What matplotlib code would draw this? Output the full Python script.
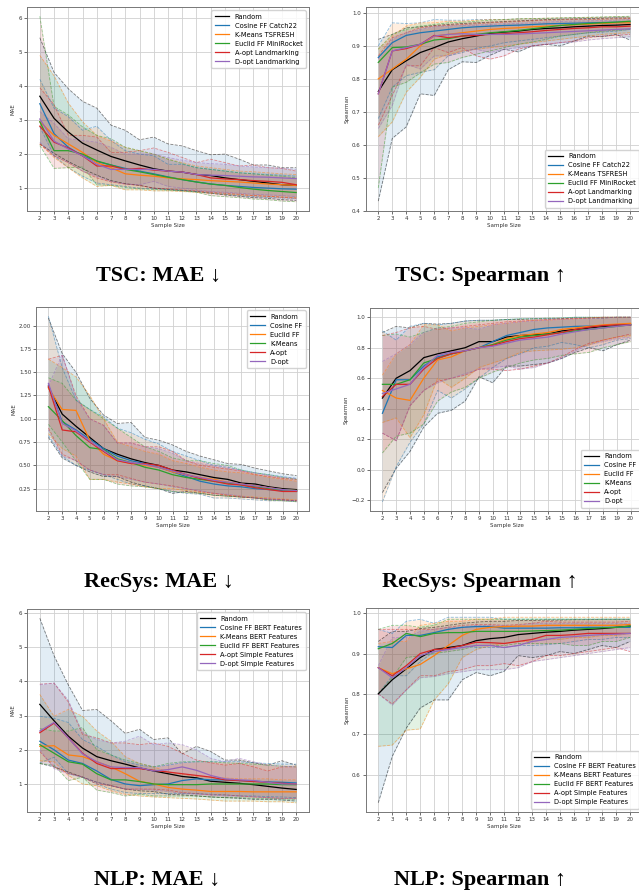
import matplotlib
matplotlib.use("Agg")
import matplotlib.pyplot as plt

# sample sizes on the x axis
sample_sizes = list(range(2, 21))

tsc_labels = ["Random", "Cosine FF Catch22", "K-Means TSFRESH",
              "Euclid FF MiniRocket", "A-opt Landmarking", "D-opt Landmarking"]
recsys_labels = ["Random", "Cosine FF", "Euclid FF", "K-Means", "A-opt", "D-opt"]
nlp_labels = ["Random", "Cosine FF BERT Features", "K-Means BERT Features",
              "Euclid FF BERT Features", "A-opt Simple Features",
              "D-opt Simple Features"]

# ---- TSC: MAE  (mean, lower, upper for each method) ----
tsc_mae_mean = [
    [3.7, 3.05, 2.65, 2.32, 2.12, 1.93, 1.8, 1.68, 1.57, 1.5, 1.47, 1.4, 1.37, 1.3, 1.25, 1.2, 1.15, 1.1, 1.08],
    [3.48, 2.6, 2.2, 1.95, 1.78, 1.68, 1.58, 1.5, 1.42, 1.33, 1.25, 1.18, 1.12, 1.08, 1.05, 1.02, 1.0, 0.98, 0.97],
    [2.95, 2.55, 2.3, 2.05, 1.75, 1.6, 1.42, 1.38, 1.35, 1.3, 1.27, 1.25, 1.22, 1.2, 1.18, 1.15, 1.12, 1.1, 1.08],
    [2.95, 2.1, 2.1, 2.0, 1.8, 1.68, 1.55, 1.48, 1.4, 1.32, 1.25, 1.18, 1.12, 1.08, 1.02, 0.97, 0.93, 0.9, 0.87],
    [2.82, 2.35, 2.18, 1.95, 1.65, 1.65, 1.55, 1.58, 1.53, 1.5, 1.47, 1.4, 1.3, 1.27, 1.25, 1.22, 1.2, 1.17, 1.1],
    [3.03, 2.38, 2.15, 1.95, 1.7, 1.55, 1.55, 1.55, 1.55, 1.5, 1.47, 1.4, 1.38, 1.37, 1.35, 1.33, 1.32, 1.3, 1.28],
]
tsc_mae_lo = [
    [2.3, 2.02, 1.78, 1.57, 1.38, 1.22, 1.13, 1.08, 1.0, 0.96, 0.93, 0.9, 0.85, 0.8, 0.76, 0.72, 0.7, 0.66, 0.64],
    [2.8, 1.95, 1.6, 1.35, 1.15, 1.1, 1.05, 1.0, 0.98, 0.96, 0.93, 0.9, 0.85, 0.82, 0.78, 0.75, 0.73, 0.71, 0.7],
    [2.3, 1.9, 1.6, 1.3, 1.05, 1.08, 0.95, 0.95, 0.92, 0.92, 0.9, 0.88, 0.85, 0.82, 0.8, 0.78, 0.76, 0.74, 0.72],
    [2.25, 1.58, 1.6, 1.62, 1.1, 1.08, 1.02, 0.98, 0.96, 0.94, 0.92, 0.88, 0.78, 0.75, 0.72, 0.68, 0.66, 0.62, 0.6],
    [2.3, 1.95, 1.75, 1.5, 1.3, 1.18, 1.12, 1.08, 1.0, 0.98, 0.95, 0.92, 0.88, 0.85, 0.82, 0.78, 0.76, 0.73, 0.7],
    [2.35, 1.95, 1.75, 1.5, 1.35, 1.2, 1.12, 1.1, 1.2, 1.05, 1.0, 0.95, 0.9, 0.88, 0.85, 0.82, 0.8, 0.78, 0.75],
]
tsc_mae_hi = [
    [5.42, 4.4, 3.92, 3.55, 3.35, 2.85, 2.7, 2.42, 2.5, 2.3, 2.24, 2.1, 1.98, 2.0, 1.85, 1.68, 1.68, 1.6, 1.6],
    [4.2, 3.35, 3.1, 2.7, 2.82, 2.4, 2.1, 2.0, 1.95, 1.7, 1.7, 1.6, 1.55, 1.5, 1.45, 1.42, 1.4, 1.38, 1.35],
    [4.9, 4.3, 3.5, 2.95, 2.55, 2.38, 2.2, 2.1, 2.0, 1.85, 1.75, 1.65, 1.6, 1.55, 1.5, 1.48, 1.45, 1.42, 1.4],
    [6.05, 3.4, 3.15, 2.8, 2.55, 2.45, 2.2, 2.1, 2.0, 1.85, 1.72, 1.6, 1.55, 1.5, 1.45, 1.42, 1.38, 1.35, 1.3],
    [3.95, 3.45, 2.55, 2.55, 2.5, 2.05, 2.05, 2.1, 2.18, 2.05, 1.9, 1.75, 1.85, 1.75, 1.65, 1.68, 1.6, 1.58, 1.5],
    [3.25, 2.9, 2.45, 2.4, 2.35, 2.2, 2.0, 2.0, 2.0, 1.9, 1.82, 1.75, 1.72, 1.7, 1.65, 1.62, 1.6, 1.58, 1.55],
]

# ---- TSC: Spearman ----
tsc_sp_mean = [
    [0.762, 0.828, 0.855, 0.88, 0.895, 0.912, 0.922, 0.93, 0.938, 0.942, 0.945, 0.95, 0.953, 0.955, 0.958, 0.96, 0.962, 0.963, 0.965],
    [0.865, 0.91, 0.932, 0.94, 0.945, 0.95, 0.955, 0.958, 0.96, 0.962, 0.963, 0.965, 0.967, 0.968, 0.969, 0.97, 0.971, 0.972, 0.973],
    [0.8, 0.83, 0.86, 0.9, 0.93, 0.935, 0.94, 0.945, 0.95, 0.953, 0.955, 0.958, 0.96, 0.962, 0.964, 0.966, 0.968, 0.97, 0.97],
    [0.85, 0.895, 0.897, 0.905, 0.918, 0.922, 0.93, 0.935, 0.94, 0.943, 0.947, 0.952, 0.957, 0.962, 0.965, 0.968, 0.97, 0.972, 0.975],
    [0.755, 0.885, 0.892, 0.905, 0.932, 0.925, 0.93, 0.932, 0.935, 0.937, 0.94, 0.943, 0.947, 0.95, 0.953, 0.955, 0.958, 0.958, 0.96],
    [0.755, 0.885, 0.895, 0.905, 0.93, 0.935, 0.937, 0.935, 0.935, 0.935, 0.936, 0.938, 0.94, 0.942, 0.944, 0.946, 0.948, 0.95, 0.952],
]
tsc_sp_lo = [
    [0.43, 0.62, 0.655, 0.755, 0.75, 0.828, 0.852, 0.85, 0.872, 0.89, 0.882, 0.9, 0.905, 0.9, 0.915, 0.93, 0.928, 0.935, 0.918],
    [0.68, 0.775, 0.81, 0.82, 0.828, 0.87, 0.88, 0.893, 0.9, 0.91, 0.915, 0.92, 0.925, 0.93, 0.935, 0.94, 0.942, 0.945, 0.95],
    [0.625, 0.67, 0.76, 0.805, 0.86, 0.875, 0.885, 0.89, 0.895, 0.9, 0.905, 0.91, 0.915, 0.92, 0.925, 0.93, 0.935, 0.938, 0.94],
    [0.47, 0.775, 0.79, 0.818, 0.845, 0.85, 0.865, 0.875, 0.885, 0.895, 0.905, 0.912, 0.92, 0.93, 0.935, 0.94, 0.945, 0.948, 0.95],
    [0.66, 0.75, 0.84, 0.84, 0.895, 0.88, 0.895, 0.87, 0.86, 0.87, 0.89, 0.9, 0.905, 0.91, 0.915, 0.925, 0.93, 0.932, 0.935],
    [0.65, 0.72, 0.845, 0.83, 0.87, 0.87, 0.885, 0.89, 0.88, 0.89, 0.895, 0.9, 0.905, 0.91, 0.912, 0.918, 0.922, 0.925, 0.928],
]
tsc_sp_hi = [
    [0.92, 0.935, 0.955, 0.958, 0.962, 0.965, 0.968, 0.97, 0.972, 0.974, 0.976, 0.978, 0.98, 0.981, 0.982, 0.983, 0.984, 0.985, 0.985],
    [0.9, 0.97, 0.968, 0.97, 0.98, 0.978, 0.978, 0.98, 0.98, 0.98, 0.982, 0.982, 0.983, 0.984, 0.985, 0.985, 0.986, 0.987, 0.988],
    [0.89, 0.93, 0.96, 0.97, 0.97, 0.975, 0.975, 0.978, 0.98, 0.98, 0.982, 0.983, 0.984, 0.985, 0.985, 0.986, 0.987, 0.988, 0.988],
    [0.89, 0.935, 0.95, 0.96, 0.965, 0.97, 0.972, 0.975, 0.978, 0.98, 0.982, 0.983, 0.984, 0.985, 0.986, 0.987, 0.988, 0.989, 0.99],
    [0.87, 0.925, 0.94, 0.955, 0.96, 0.962, 0.965, 0.967, 0.97, 0.972, 0.974, 0.976, 0.978, 0.979, 0.98, 0.98, 0.981, 0.982, 0.983],
    [0.86, 0.92, 0.94, 0.95, 0.958, 0.96, 0.962, 0.963, 0.965, 0.967, 0.968, 0.97, 0.972, 0.974, 0.975, 0.976, 0.977, 0.978, 0.98],
]

# ---- RecSys: MAE ----
rec_mae_mean = [
    [1.34, 1.05, 0.92, 0.8, 0.68, 0.62, 0.57, 0.53, 0.5, 0.45, 0.43, 0.4, 0.37, 0.35, 0.31, 0.3, 0.27, 0.25, 0.24],
    [1.36, 0.97, 0.88, 0.78, 0.68, 0.6, 0.55, 0.52, 0.48, 0.43, 0.38, 0.33, 0.3, 0.28, 0.27, 0.25, 0.24, 0.23, 0.22],
    [1.33, 1.1, 1.09, 0.77, 0.62, 0.55, 0.52, 0.5, 0.48, 0.43, 0.4, 0.37, 0.35, 0.32, 0.3, 0.28, 0.26, 0.24, 0.23],
    [1.13, 0.98, 0.82, 0.69, 0.67, 0.57, 0.53, 0.48, 0.45, 0.4, 0.37, 0.35, 0.33, 0.31, 0.29, 0.27, 0.25, 0.24, 0.23],
    [1.35, 0.88, 0.86, 0.75, 0.65, 0.55, 0.52, 0.52, 0.5, 0.45, 0.4, 0.36, 0.33, 0.3, 0.29, 0.26, 0.24, 0.22, 0.22],
    [1.38, 0.95, 0.87, 0.76, 0.66, 0.56, 0.53, 0.51, 0.48, 0.44, 0.4, 0.37, 0.34, 0.32, 0.3, 0.28, 0.26, 0.24, 0.23],
]
rec_mae_lo = [
    [0.8, 0.58, 0.5, 0.43, 0.38, 0.38, 0.32, 0.28, 0.25, 0.2, 0.22, 0.2, 0.18, 0.17, 0.16, 0.15, 0.13, 0.13, 0.12],
    [0.82, 0.6, 0.5, 0.45, 0.4, 0.35, 0.3, 0.28, 0.25, 0.22, 0.2, 0.19, 0.15, 0.15, 0.14, 0.13, 0.12, 0.12, 0.11],
    [0.84, 0.68, 0.6, 0.35, 0.35, 0.32, 0.3, 0.27, 0.25, 0.25, 0.23, 0.21, 0.2, 0.18, 0.17, 0.16, 0.15, 0.14, 0.13],
    [0.94, 0.75, 0.55, 0.35, 0.35, 0.3, 0.28, 0.27, 0.25, 0.22, 0.21, 0.2, 0.18, 0.17, 0.16, 0.15, 0.13, 0.12, 0.11],
    [0.9, 0.62, 0.55, 0.45, 0.4, 0.4, 0.36, 0.32, 0.3, 0.28, 0.25, 0.22, 0.2, 0.18, 0.16, 0.15, 0.14, 0.13, 0.12],
    [0.88, 0.6, 0.55, 0.45, 0.4, 0.38, 0.35, 0.32, 0.3, 0.27, 0.25, 0.23, 0.2, 0.19, 0.17, 0.15, 0.14, 0.13, 0.12],
]
rec_mae_hi = [
    [2.08, 1.7, 1.5, 1.22, 1.04, 0.95, 0.96, 0.8, 0.77, 0.72, 0.65, 0.6, 0.56, 0.52, 0.51, 0.47, 0.44, 0.41, 0.39],
    [2.1, 1.55, 1.2, 1.1, 1.02, 0.9, 0.85, 0.78, 0.73, 0.65, 0.6, 0.55, 0.5, 0.48, 0.45, 0.42, 0.4, 0.38, 0.36],
    [1.64, 1.55, 1.45, 1.25, 1.0, 0.75, 0.7, 0.65, 0.62, 0.55, 0.52, 0.48, 0.45, 0.43, 0.42, 0.4, 0.37, 0.35, 0.33],
    [1.44, 1.38, 1.2, 1.1, 1.0, 0.9, 0.8, 0.7, 0.65, 0.58, 0.55, 0.55, 0.52, 0.5, 0.45, 0.42, 0.4, 0.37, 0.35],
    [1.64, 1.68, 1.25, 1.0, 0.93, 0.74, 0.74, 0.7, 0.7, 0.65, 0.55, 0.5, 0.48, 0.46, 0.44, 0.4, 0.38, 0.36, 0.35],
    [1.35, 1.69, 1.22, 1.0, 0.93, 0.74, 0.74, 0.7, 0.68, 0.63, 0.55, 0.52, 0.49, 0.47, 0.44, 0.42, 0.39, 0.37, 0.36],
]

# ---- RecSys: Spearman ----
rec_sp_mean = [
    [0.47, 0.6, 0.65, 0.735, 0.76, 0.78, 0.8, 0.84, 0.84, 0.87, 0.88, 0.885, 0.89, 0.91, 0.92, 0.93, 0.94, 0.945, 0.95],
    [0.37, 0.59, 0.59, 0.68, 0.74, 0.76, 0.78, 0.8, 0.84, 0.88, 0.9, 0.92, 0.93, 0.935, 0.94, 0.942, 0.945, 0.95, 0.955],
    [0.52, 0.47, 0.455, 0.6, 0.72, 0.74, 0.78, 0.8, 0.82, 0.86, 0.88, 0.89, 0.9, 0.92, 0.93, 0.94, 0.95, 0.955, 0.96],
    [0.56, 0.56, 0.59, 0.7, 0.73, 0.76, 0.78, 0.8, 0.82, 0.85, 0.87, 0.88, 0.89, 0.9, 0.91, 0.92, 0.93, 0.94, 0.95],
    [0.48, 0.56, 0.56, 0.66, 0.73, 0.76, 0.78, 0.8, 0.815, 0.84, 0.86, 0.87, 0.885, 0.9, 0.92, 0.935, 0.945, 0.95, 0.95],
    [0.5, 0.53, 0.56, 0.67, 0.75, 0.77, 0.78, 0.8, 0.81, 0.83, 0.85, 0.86, 0.87, 0.89, 0.905, 0.92, 0.93, 0.94, 0.95],
]
rec_sp_lo = [
    [-0.15, 0.01, 0.12, 0.28, 0.37, 0.39, 0.45, 0.61, 0.57, 0.68, 0.68, 0.69, 0.7, 0.73, 0.77, 0.8, 0.78, 0.82, 0.85],
    [-0.21, 0.02, 0.18, 0.3, 0.52, 0.47, 0.53, 0.6, 0.67, 0.73, 0.76, 0.8, 0.81, 0.835, 0.82, 0.8, 0.82, 0.85, 0.86],
    [0.31, 0.34, 0.21, 0.36, 0.6, 0.54, 0.6, 0.67, 0.7, 0.73, 0.77, 0.78, 0.785, 0.79, 0.8, 0.82, 0.85, 0.87, 0.88],
    [0.11, 0.22, 0.24, 0.3, 0.45, 0.51, 0.54, 0.6, 0.64, 0.67, 0.7, 0.72, 0.73, 0.75, 0.76, 0.77, 0.8, 0.82, 0.84],
    [0.24, 0.19, 0.42, 0.52, 0.58, 0.6, 0.62, 0.66, 0.66, 0.65, 0.66, 0.68, 0.7, 0.74, 0.79, 0.83, 0.85, 0.87, 0.89],
    [0.24, 0.19, 0.42, 0.52, 0.57, 0.6, 0.63, 0.66, 0.67, 0.68, 0.66, 0.67, 0.7, 0.73, 0.78, 0.82, 0.84, 0.86, 0.87],
]
rec_sp_hi = [
    [0.9, 0.94, 0.93, 0.96, 0.955, 0.96, 0.975, 0.98, 0.98, 0.985, 0.985, 0.99, 0.99, 0.99, 0.995, 0.995, 0.995, 1.0, 1.0],
    [0.91, 0.85, 0.94, 0.96, 0.95, 0.96, 0.975, 0.98, 0.98, 0.985, 0.99, 0.99, 0.99, 0.995, 1.0, 1.0, 1.0, 1.0, 1.0],
    [0.62, 0.76, 0.82, 0.95, 0.95, 0.91, 0.93, 0.94, 0.95, 0.96, 0.97, 0.98, 0.98, 0.985, 0.99, 0.995, 1.0, 1.0, 1.0],
    [0.88, 0.89, 0.87, 0.9, 0.93, 0.94, 0.96, 0.97, 0.98, 0.985, 0.99, 0.99, 0.995, 0.995, 1.0, 1.0, 1.0, 1.0, 1.0],
    [0.88, 0.9, 0.93, 0.94, 0.92, 0.93, 0.94, 0.95, 0.96, 0.97, 0.975, 0.98, 0.985, 0.99, 0.99, 0.995, 1.0, 1.0, 1.0],
    [0.71, 0.76, 0.82, 0.9, 0.93, 0.93, 0.93, 0.92, 0.95, 0.96, 0.97, 0.975, 0.98, 0.985, 0.99, 0.99, 0.995, 1.0, 1.0],
]

# ---- NLP: MAE ----
nlp_mae_mean = [
    [3.33, 2.85, 2.4, 2.05, 1.8, 1.68, 1.58, 1.47, 1.38, 1.3, 1.22, 1.18, 1.08, 1.05, 1.02, 0.98, 0.93, 0.88, 0.84],
    [2.25, 2.0, 1.7, 1.6, 1.38, 1.13, 1.0, 0.95, 0.98, 1.0, 1.1, 1.15, 1.12, 1.12, 1.1, 1.08, 1.06, 1.05, 1.03],
    [2.1, 2.12, 1.85, 1.8, 1.65, 1.5, 1.3, 1.08, 1.0, 0.9, 0.85, 0.82, 0.78, 0.78, 0.78, 0.77, 0.77, 0.77, 0.77],
    [2.15, 1.9, 1.65, 1.58, 1.3, 1.12, 1.12, 1.07, 1.0, 0.98, 0.98, 0.98, 1.0, 1.0, 1.0, 1.0, 1.0, 0.98, 0.98],
    [2.5, 2.78, 2.35, 1.9, 1.6, 1.45, 1.45, 1.45, 1.4, 1.35, 1.3, 1.25, 1.2, 1.12, 1.1, 1.07, 1.05, 1.02, 1.0],
    [2.55, 2.8, 2.35, 1.88, 1.65, 1.5, 1.48, 1.48, 1.38, 1.42, 1.5, 1.4, 1.25, 1.15, 1.12, 1.1, 1.05, 1.0, 1.0],
]
nlp_mae_lo = [
    [1.6, 1.5, 1.35, 1.2, 1.05, 0.95, 0.85, 0.8, 0.78, 0.7, 0.68, 0.65, 0.62, 0.6, 0.58, 0.55, 0.55, 0.53, 0.5],
    [1.62, 1.78, 1.3, 1.2, 1.0, 0.85, 0.75, 0.72, 0.72, 0.72, 0.72, 0.72, 0.7, 0.68, 0.65, 0.65, 0.63, 0.62, 0.6],
    [1.68, 1.65, 1.25, 1.0, 0.95, 0.8, 0.7, 0.65, 0.62, 0.6, 0.58, 0.56, 0.53, 0.5, 0.5, 0.5, 0.48, 0.48, 0.45],
    [1.6, 1.55, 1.1, 1.2, 0.82, 0.75, 0.65, 0.7, 0.65, 0.65, 0.65, 0.65, 0.62, 0.6, 0.6, 0.58, 0.58, 0.56, 0.55],
    [1.95, 1.5, 1.32, 1.2, 1.0, 0.95, 0.85, 0.85, 0.85, 0.82, 0.75, 0.72, 0.68, 0.68, 0.65, 0.62, 0.6, 0.58, 0.58],
    [2.0, 1.45, 1.3, 1.2, 1.05, 0.95, 0.85, 0.85, 0.82, 0.78, 0.72, 0.7, 0.68, 0.65, 0.65, 0.63, 0.6, 0.58, 0.58],
]
nlp_mae_hi = [
    [5.85, 4.75, 3.9, 3.15, 3.18, 2.85, 2.48, 2.6, 2.3, 2.35, 1.88, 2.1, 1.95, 1.7, 1.7, 1.62, 1.55, 1.68, 1.55],
    [2.98, 2.92, 2.8, 2.3, 2.1, 1.85, 1.65, 1.55, 1.5, 1.55, 1.62, 1.65, 1.65, 1.65, 1.65, 1.62, 1.6, 1.58, 1.58],
    [3.62, 2.98, 3.18, 2.98, 2.55, 2.25, 1.8, 1.6, 1.5, 1.35, 1.28, 1.22, 1.2, 1.18, 1.15, 1.15, 1.15, 1.12, 1.12],
    [2.62, 2.55, 2.55, 2.65, 2.0, 1.85, 1.7, 1.6, 1.5, 1.6, 1.65, 1.65, 1.65, 1.62, 1.6, 1.58, 1.55, 1.52, 1.5],
    [3.92, 3.95, 3.4, 2.45, 2.35, 2.2, 2.2, 2.15, 2.2, 2.1, 1.9, 1.7, 1.62, 1.55, 1.6, 1.5, 1.38, 1.5, 1.5],
    [3.9, 3.95, 3.45, 2.5, 2.3, 2.2, 2.25, 2.4, 2.15, 2.2, 2.15, 2.0, 1.75, 1.65, 1.75, 1.65, 1.55, 1.52, 1.5],
]

# ---- NLP: Spearman ----
nlp_sp_mean = [
    [0.8, 0.835, 0.862, 0.89, 0.91, 0.915, 0.92, 0.932, 0.937, 0.94, 0.947, 0.95, 0.953, 0.955, 0.958, 0.96, 0.962, 0.965, 0.968],
    [0.917, 0.915, 0.945, 0.945, 0.952, 0.96, 0.965, 0.967, 0.967, 0.963, 0.963, 0.963, 0.963, 0.964, 0.964, 0.965, 0.965, 0.965, 0.965],
    [0.865, 0.85, 0.862, 0.873, 0.895, 0.92, 0.945, 0.96, 0.965, 0.967, 0.968, 0.968, 0.97, 0.97, 0.97, 0.97, 0.97, 0.97, 0.972],
    [0.912, 0.925, 0.95, 0.942, 0.95, 0.952, 0.952, 0.955, 0.955, 0.955, 0.955, 0.956, 0.957, 0.958, 0.96, 0.962, 0.964, 0.965, 0.968],
    [0.865, 0.845, 0.87, 0.9, 0.91, 0.912, 0.92, 0.928, 0.927, 0.925, 0.93, 0.935, 0.945, 0.945, 0.947, 0.95, 0.95, 0.95, 0.95],
    [0.865, 0.84, 0.865, 0.895, 0.905, 0.91, 0.915, 0.92, 0.92, 0.915, 0.92, 0.93, 0.935, 0.94, 0.942, 0.945, 0.947, 0.948, 0.95],
]
nlp_sp_lo = [
    [0.53, 0.645, 0.715, 0.765, 0.785, 0.785, 0.835, 0.853, 0.845, 0.856, 0.895, 0.89, 0.895, 0.905, 0.9, 0.91, 0.92, 0.915, 0.93],
    [0.8, 0.845, 0.845, 0.88, 0.905, 0.91, 0.92, 0.915, 0.915, 0.915, 0.92, 0.92, 0.922, 0.925, 0.93, 0.935, 0.935, 0.94, 0.94],
    [0.67, 0.673, 0.71, 0.713, 0.785, 0.825, 0.89, 0.91, 0.92, 0.925, 0.93, 0.93, 0.935, 0.935, 0.94, 0.94, 0.945, 0.945, 0.95],
    [0.8, 0.84, 0.89, 0.895, 0.9, 0.905, 0.91, 0.92, 0.92, 0.92, 0.925, 0.925, 0.925, 0.925, 0.92, 0.92, 0.93, 0.93, 0.94],
    [0.8, 0.775, 0.81, 0.845, 0.845, 0.855, 0.86, 0.87, 0.87, 0.875, 0.87, 0.88, 0.895, 0.895, 0.9, 0.905, 0.91, 0.915, 0.905],
    [0.8, 0.772, 0.81, 0.84, 0.843, 0.85, 0.855, 0.86, 0.86, 0.86, 0.865, 0.88, 0.885, 0.89, 0.895, 0.9, 0.905, 0.91, 0.915],
]
nlp_sp_hi = [
    [0.93, 0.955, 0.955, 0.962, 0.965, 0.97, 0.975, 0.978, 0.98, 0.98, 0.982, 0.982, 0.983, 0.983, 0.984, 0.984, 0.985, 0.985, 0.985],
    [0.96, 0.95, 0.98, 0.985, 0.975, 0.99, 0.99, 0.99, 0.99, 0.985, 0.985, 0.985, 0.985, 0.985, 0.985, 0.985, 0.985, 0.985, 0.985],
    [0.925, 0.93, 0.93, 0.97, 0.975, 0.98, 0.98, 0.985, 0.985, 0.99, 0.99, 0.99, 0.99, 0.99, 0.99, 0.99, 0.99, 0.99, 0.99],
    [0.96, 0.97, 0.97, 0.965, 0.97, 0.985, 0.985, 0.985, 0.985, 0.985, 0.985, 0.985, 0.985, 0.985, 0.985, 0.985, 0.985, 0.985, 0.985],
    [0.96, 0.96, 0.96, 0.96, 0.96, 0.965, 0.97, 0.972, 0.972, 0.97, 0.972, 0.975, 0.98, 0.978, 0.978, 0.978, 0.978, 0.978, 0.98],
    [0.87, 0.94, 0.94, 0.955, 0.96, 0.965, 0.965, 0.97, 0.97, 0.97, 0.97, 0.975, 0.975, 0.975, 0.975, 0.975, 0.975, 0.975, 0.975],
]

line_colors = ["black", "C0", "C1", "C2", "C3", "C4"]
fill_colors = ["C0", "C1", "C2", "C3", "C4", "C5"]

W, H = 639, 892
fig = plt.figure(figsize=(W / 100, H / 100), dpi=100)


def add_axes_px(left, top, right, bottom):
    return fig.add_axes([left / W, 1 - bottom / H, (right - left) / W, (bottom - top) / H])


def draw_panel(ax, means, lows, highs, labels, ylabel, yticks, loc):
    for m, lo, hi, lab, lc, fc in zip(means, lows, highs, labels, line_colors, fill_colors):
        ax.plot(sample_sizes, m, color=lc, lw=0.9, label=lab, zorder=3)
        ax.fill_between(sample_sizes, lo, hi, color=fc, alpha=0.13, lw=0)
        ax.plot(sample_sizes, lo, "--", color=lc, alpha=0.5, lw=0.6)
        ax.plot(sample_sizes, hi, "--", color=lc, alpha=0.5, lw=0.6)
    ax.set_xticks(sample_sizes)
    ax.set_yticks(yticks)
    ax.grid(True, color="#d0d0d0", lw=0.6)
    ax.set_axisbelow(True)
    ax.tick_params(labelsize=4, length=2, width=0.5, pad=1.5, colors="#333333")
    for s in ax.spines.values():
        s.set_color("#777777")
        s.set_linewidth(0.7)
    ax.set_xlabel("Sample Size", fontsize=4, labelpad=1.5, color="#333333")
    ax.set_ylabel(ylabel, fontsize=4, labelpad=2, color="#333333")
    ax.legend(loc=loc, fontsize=4.8, handlelength=2.2, borderpad=0.5,
              labelspacing=0.45, framealpha=0.85)


panels = [
    ((27, 7, 309, 211), tsc_mae_mean, tsc_mae_lo, tsc_mae_hi, tsc_labels, "MAE",
     [1, 2, 3, 4, 5, 6], "upper right"),
    ((365.7, 7, 642.6, 211), tsc_sp_mean, tsc_sp_lo, tsc_sp_hi, tsc_labels, "Spearman",
     [0.4, 0.5, 0.6, 0.7, 0.8, 0.9, 1.0], "lower right"),
    ((36, 307, 309, 511), rec_mae_mean, rec_mae_lo, rec_mae_hi, recsys_labels, "MAE",
     [0.25, 0.5, 0.75, 1.0, 1.25, 1.5, 1.75, 2.0], "upper right"),
    ((370, 308, 643, 511), rec_sp_mean, rec_sp_lo, rec_sp_hi, recsys_labels, "Spearman",
     [-0.2, 0.0, 0.2, 0.4, 0.6, 0.8, 1.0], "lower right"),
    ((27, 609, 309, 812), nlp_mae_mean, nlp_mae_lo, nlp_mae_hi, nlp_labels, "MAE",
     [1, 2, 3, 4, 5, 6], "upper right"),
    ((365.7, 608, 642.6, 812), nlp_sp_mean, nlp_sp_lo, nlp_sp_hi, nlp_labels, "Spearman",
     [0.6, 0.7, 0.8, 0.9, 1.0], "lower right"),
]

for box, means, lows, highs, labels, ylabel, yticks, loc in panels:
    ax = add_axes_px(*box)
    draw_panel(ax, means, lows, highs, labels, ylabel, yticks, loc)

titles = [("TSC: MAE \u2193", 159, 276), ("TSC: Spearman \u2191", 480, 276),
          ("RecSys: MAE \u2193", 159, 582), ("RecSys: Spearman \u2191", 480, 582),
          ("NLP: MAE \u2193", 157, 880), ("NLP: Spearman \u2191", 480, 880)]
for txt, cx, cy in titles:
    fig.text(cx / W, 1 - cy / H, txt, ha="center", va="center", fontsize=16,
             fontweight="bold", family=["Liberation Serif", "DejaVu Serif"])

fig.savefig("out.png", dpi=100)
